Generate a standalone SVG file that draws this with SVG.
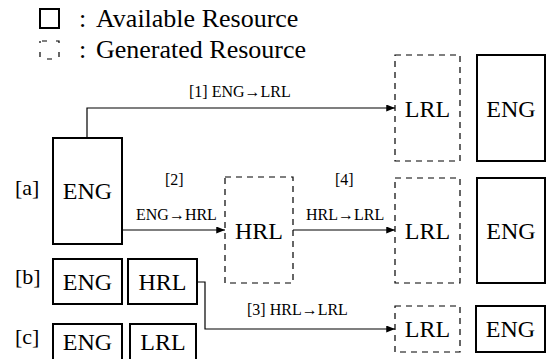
<svg xmlns="http://www.w3.org/2000/svg" width="546" height="359" viewBox="0 0 546 359" font-family="'Liberation Serif', 'DejaVu Serif', serif">
<style>
.big{font-size:24px;text-anchor:middle}
.lbl{font-size:22px}
.sm{font-size:16px}
.leg{font-size:26px}
.solid{fill:#fff;stroke:#000;stroke-width:2}
.dash{fill:#fff;stroke:#000;stroke-width:1.2;stroke-dasharray:6,5}
.conn{fill:none;stroke:#000;stroke-width:1.2}
</style>
<defs>
<marker id="ah" viewBox="0 0 10 8" refX="10" refY="4" markerWidth="10" markerHeight="7" markerUnits="userSpaceOnUse" orient="auto">
<path d="M0,0 L10,4 L0,8 z" fill="#000"/>
</marker>
</defs>
<g id="legend">
<rect x="40" y="9" width="19" height="19" class="solid"/>
<text x="79" y="27" class="leg">:</text>
<text x="96" y="27" class="leg">Available Resource</text>
<rect x="40" y="41" width="19" height="18" fill="none" stroke="#000" stroke-width="1.2" stroke-dasharray="5,9" stroke-dashoffset="-2"/>
<text x="79" y="58" class="leg">:</text>
<text x="96" y="58" class="leg">Generated Resource</text>
</g>
<g id="row-labels">
<text x="15" y="195" class="lbl">[a]</text>
<text x="15" y="284" class="lbl">[b]</text>
<text x="15" y="344" class="lbl">[c]</text>
</g>
<g id="connectors">
<path d="M87,138 V108 H395" class="conn" marker-end="url(#ah)"/>
<path d="M122,230 H225" class="conn" marker-end="url(#ah)"/>
<path d="M293,230 H395" class="conn" marker-end="url(#ah)"/>
<path d="M197,282 H205 V329 H395" class="conn" marker-end="url(#ah)"/>
<text x="189" y="97" class="sm">[1] ENG→LRL</text>
<text x="165" y="185" class="sm">[2]</text>
<text x="136" y="220" class="sm">ENG→HRL</text>
<text x="335" y="185" class="sm">[4]</text>
<text x="306" y="220" class="sm">HRL→LRL</text>
<text x="247" y="315" class="sm">[3] HRL→LRL</text>
</g>
<g id="a-eng">
<rect x="53" y="138" width="69" height="106" class="solid"/>
<text x="87.5" y="199" class="big">ENG</text>
</g>
<g id="a-hrl">
<rect x="225" y="177" width="68" height="106" class="dash"/>
<text x="259" y="239" class="big">HRL</text>
</g>
<g id="top-lrl">
<rect x="395" y="55" width="65" height="106" class="dash"/>
<text x="427.5" y="117" class="big">LRL</text>
</g>
<g id="top-eng">
<rect x="477" y="55" width="68" height="106" class="solid"/>
<text x="511" y="117" class="big">ENG</text>
</g>
<g id="mid-lrl">
<rect x="395" y="178" width="65" height="105" class="dash"/>
<text x="427.5" y="239" class="big">LRL</text>
</g>
<g id="mid-eng">
<rect x="477" y="178" width="68" height="105" class="solid"/>
<text x="511" y="239" class="big">ENG</text>
</g>
<g id="b-eng">
<rect x="53" y="259" width="69" height="45" class="solid"/>
<text x="87.5" y="290" class="big">ENG</text>
</g>
<g id="b-hrl">
<rect x="128" y="259" width="69" height="45" class="solid"/>
<text x="162.5" y="290" class="big">HRL</text>
</g>
<g id="c-eng">
<rect x="53" y="324" width="69" height="45" class="solid"/>
<text x="87.5" y="350" class="big">ENG</text>
</g>
<g id="c-lrl">
<rect x="130" y="324" width="66" height="45" class="solid"/>
<text x="163" y="350" class="big">LRL</text>
</g>
<g id="bot-lrl">
<rect x="395" y="306" width="65" height="46" class="dash"/>
<text x="427.5" y="337" class="big">LRL</text>
</g>
<g id="bot-eng">
<rect x="476" y="306" width="69" height="46" class="solid"/>
<text x="510.5" y="337" class="big">ENG</text>
</g>
</svg>
